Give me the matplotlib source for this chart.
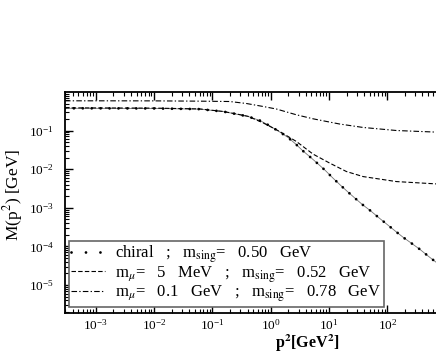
import matplotlib
matplotlib.use("Agg")
import matplotlib.pyplot as plt
from matplotlib.lines import Line2D
from matplotlib.ticker import LogLocator, FixedLocator, NullFormatter

plt.rcParams['font.family'] = ['Liberation Serif', 'DejaVu Serif']
plt.rcParams['mathtext.fontset'] = 'stix'

# chiral limit
p2_chiral = [2.95e-4, 1e-3, 1e-2, 6.05e-2, 0.151, 0.242, 0.408, 0.648, 0.962, 1.39, 1.98, 2.69,
             3.50, 4.86, 6.47, 8.77, 11.7, 15.3, 20.7, 27.9, 37.4, 51.9, 71.1, 96.6,
             136, 186, 259, 360, 499, 1000]
M_chiral = [0.376, 0.375, 0.372, 0.358, 0.310, 0.271, 0.231, 0.182, 0.132, 0.094, 0.066, 0.0445,
            0.0304, 0.0200, 0.0137, 0.00903, 0.00585, 0.00399, 0.00263, 0.00177, 0.00121, 8.3e-4,
            5.57e-4, 3.83e-4, 2.52e-4, 1.73e-4, 1.21e-4, 8.46e-5, 5.67e-5, 2.5e-5]

# m_mu = 5 MeV
p2_5mev = [2.95e-4, 1e-3, 1e-2, 6.05e-2, 0.151, 0.242, 0.408, 0.738, 1.43, 2.76, 5.32, 10.3,
           19.9, 38.3, 143, 676, 1000]
M_5mev = [0.385, 0.384, 0.380, 0.362, 0.312, 0.273, 0.233, 0.158, 0.094, 0.0519,
          0.0245, 0.0143, 0.00867, 0.00643, 0.00477, 0.00416, 0.0041]

# m_mu = 0.1 GeV
p2_01gev = [2.95e-4, 1e-3, 1e-2, 6.05e-2, 0.198, 0.383, 0.738, 1.25, 2.76, 5.32, 10.3, 15.3,
            38.3, 143, 676, 1000]
M_01gev = [0.587, 0.587, 0.585, 0.575, 0.563, 0.500, 0.419, 0.360, 0.255, 0.201, 0.165, 0.147,
           0.120, 0.100, 0.091, 0.089]

xticks = [1e-3, 1e-2, 1e-1, 1e0, 1e1, 1e2]
yticks = [1e-5, 1e-4, 1e-3, 1e-2, 1e-1]

labels = [r"chiral   ;   m$_{\rm sing}$=   0.50   GeV",
          r"m$_{\mu}$=   5   MeV   ;   m$_{\rm sing}$=   0.52   GeV",
          r"m$_{\mu}$=   0.1   GeV   ;   m$_{\rm sing}$=   0.78   GeV"]

fig = plt.figure(figsize=(4.36, 3.54), dpi=100)
ax = fig.add_axes([0.149, 0.116, 0.873, 0.624])

ax.plot(p2_chiral, M_chiral, color='0.45', lw=0.6)
ax.plot(p2_chiral, M_chiral, color='black', lw=2.0, linestyle=(0, (0.01, 3.2)),
        dash_capstyle='round')
ax.plot(p2_5mev, M_5mev, color='black', lw=0.8, linestyle=(0, (4, 2)))
ax.plot(p2_01gev, M_01gev, color='black', lw=0.8, linestyle=(0, (5, 2, 1.2, 2)))

ax.set_xscale('log')
ax.set_yscale('log')
ax.set_xlim(2.95e-4, 999)
ax.set_ylim(1.9e-6, 0.99)

ax.xaxis.set_major_locator(FixedLocator(xticks))
ax.xaxis.set_minor_locator(LogLocator(base=10, subs=range(2, 10), numticks=20))
ax.yaxis.set_major_locator(FixedLocator(yticks))
ax.yaxis.set_minor_locator(LogLocator(base=10, subs=range(2, 10), numticks=20))
ax.xaxis.set_minor_formatter(NullFormatter())
ax.yaxis.set_minor_formatter(NullFormatter())
ax.tick_params(which='both', direction='in', top=True, right=True, labelsize=9.5)
ax.tick_params(axis='x', pad=3.5)
ax.tick_params(axis='y', pad=8)
ax.tick_params(which='major', length=6, width=1)
ax.tick_params(which='minor', length=3, width=0.8)
for s in ax.spines.values():
    s.set_linewidth(1.3)

ax.set_xlabel(r"p$^{\mathbf{2}}$[GeV$^{\mathbf{2}}$]", fontsize=11.5, fontweight='bold')
ax.xaxis.set_label_coords(0.637, -0.088)
ax.set_ylabel(r"M(p$^2$) [GeV]", fontsize=12.5)
ax.yaxis.set_label_coords(-0.105, 0.534)

h_ch = Line2D([], [], color='black', lw=2.0, linestyle=(0, (0.01, 5.2)), dash_capstyle='round')
h_5 = Line2D([], [], color='black', lw=0.8, linestyle=(0, (4, 2)))
h_01 = Line2D([], [], color='black', lw=0.8, linestyle=(0, (5, 2, 1.2, 2)))
leg = ax.legend([h_ch, h_5, h_01], labels, loc='lower left', bbox_to_anchor=(0.0105, 0.027),
                fontsize=12, handlelength=2.0, handletextpad=0.6, labelspacing=-0.05,
                borderpad=0.15, fancybox=False, framealpha=1, edgecolor='0.4',
                borderaxespad=0)
leg.get_frame().set_linewidth(1.2)

fig.savefig("out.png", dpi=100)
